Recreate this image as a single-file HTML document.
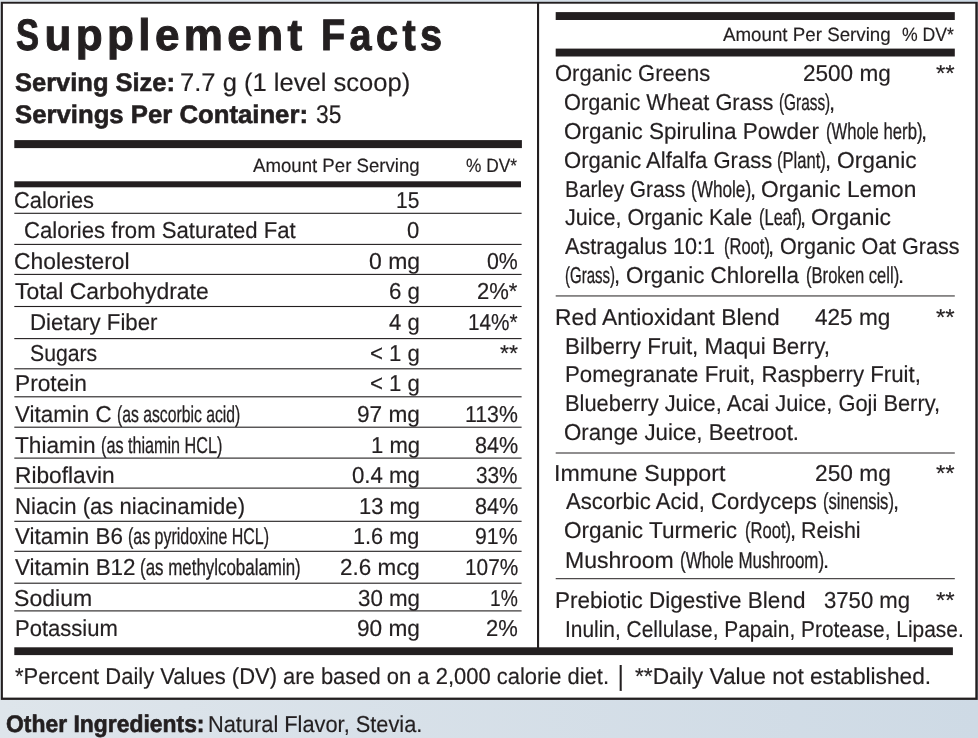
<!DOCTYPE html>
<html><head><meta charset="utf-8"><title>Supplement Facts</title><style>
html,body{margin:0;padding:0}
body{width:978px;height:738px;overflow:hidden;position:relative;background:linear-gradient(to right,#dee5eb,#cedae5);
 font-family:"Liberation Sans",sans-serif;color:#231f20}
svg{position:absolute;left:0;top:0}
.t{position:absolute;white-space:pre;line-height:1;transform-origin:0 0;display:block;text-rendering:geometricPrecision}
.b{font-weight:bold}
</style></head><body>
<svg width="978" height="738" viewBox="0 0 978 738"><rect x="0.80" y="1.80" width="976.95" height="698.10" fill="#231f20"/><rect x="2.90" y="3.70" width="972.40" height="693.90" fill="#ffffff"/><rect x="537.00" y="3.00" width="2.10" height="645.00" fill="#231f20"/><rect x="14.30" y="140.10" width="507.60" height="8.00" fill="#231f20"/><rect x="14.30" y="181.30" width="506.70" height="6.00" fill="#231f20"/><rect x="14.30" y="212.75" width="507.30" height="1.10" fill="#231f20"/><rect x="14.30" y="243.85" width="507.30" height="1.10" fill="#231f20"/><rect x="14.30" y="273.85" width="507.30" height="1.10" fill="#231f20"/><rect x="14.30" y="305.95" width="507.30" height="1.10" fill="#231f20"/><rect x="14.30" y="338.05" width="507.30" height="1.10" fill="#231f20"/><rect x="14.30" y="368.25" width="507.30" height="1.10" fill="#231f20"/><rect x="14.30" y="396.25" width="507.30" height="1.10" fill="#231f20"/><rect x="14.30" y="426.65" width="507.30" height="1.10" fill="#231f20"/><rect x="14.30" y="457.55" width="507.30" height="1.10" fill="#231f20"/><rect x="14.30" y="487.55" width="507.30" height="1.10" fill="#231f20"/><rect x="14.30" y="520.75" width="507.30" height="1.10" fill="#231f20"/><rect x="14.30" y="550.75" width="507.30" height="1.10" fill="#231f20"/><rect x="14.30" y="582.65" width="507.30" height="1.10" fill="#231f20"/><rect x="14.30" y="610.35" width="507.30" height="1.10" fill="#231f20"/><rect x="14.30" y="647.30" width="938.60" height="7.80" fill="#231f20"/><rect x="555.70" y="12.10" width="399.10" height="7.90" fill="#231f20"/><rect x="555.70" y="48.60" width="399.10" height="7.90" fill="#231f20"/><rect x="555.70" y="295.45" width="399.10" height="1.00" fill="#231f20"/><rect x="555.70" y="452.50" width="399.10" height="1.00" fill="#231f20"/><rect x="555.70" y="578.20" width="399.10" height="1.00" fill="#231f20"/></svg>
<span class="t b" style="left:15.71px;top:14.00px;font-size:44px;letter-spacing:4.400px;-webkit-text-stroke:1.0px #231f20"><span style="display:inline-block;transform:scaleX(0.7852);transform-origin:0 0;margin-right:-4.96px">S</span>upplement</span>
<span class="t b" style="left:321.20px;top:14.00px;font-size:44px;transform:scaleX(0.9000);letter-spacing:4.910px;-webkit-text-stroke:1.0px #231f20">Facts</span>
<span class="t b" style="left:15.30px;top:71.00px;font-size:25.5px;transform:scaleX(0.9991);-webkit-text-stroke:0.6px #231f20">Serving Size:</span>
<span class="t" style="left:180.20px;top:71.00px;font-size:25.5px;transform:scaleX(1.0029);-webkit-text-stroke:0.18px #231f20">7.7 g (1 level scoop)</span>
<span class="t b" style="left:15.30px;top:103.00px;font-size:25.5px;transform:scaleX(1.0086);-webkit-text-stroke:0.6px #231f20">Servings Per Container:</span>
<span class="t" style="left:316.00px;top:103.00px;font-size:25.5px;transform:scaleX(0.8942);-webkit-text-stroke:0.18px #231f20">35</span>
<span class="t" style="left:252.90px;top:157.00px;font-size:19.2px;transform:scaleX(0.9706);-webkit-text-stroke:0.18px #231f20">Amount Per Serving</span>
<span class="t" style="left:466.10px;top:157.00px;font-size:19.2px;transform:scaleX(0.9010);-webkit-text-stroke:0.18px #231f20">% DV*</span>
<span class="t" style="left:13.75px;top:189.00px;font-size:23.0px;transform:scaleX(0.9486);-webkit-text-stroke:0.18px #231f20">Calories</span>
<span class="t" style="left:396.29px;top:189.00px;font-size:23.0px;transform:scaleX(0.9121);-webkit-text-stroke:0.18px #231f20">15</span>
<span class="t" style="left:23.94px;top:219.00px;font-size:23.0px;transform:scaleX(0.9620);-webkit-text-stroke:0.18px #231f20">Calories from Saturated Fat</span>
<span class="t" style="left:407.40px;top:219.00px;font-size:23.0px;transform:scaleX(0.9583);-webkit-text-stroke:0.18px #231f20">0</span>
<span class="t" style="left:13.71px;top:250.00px;font-size:23.0px;transform:scaleX(0.9936);-webkit-text-stroke:0.18px #231f20">Cholesterol</span>
<span class="t" style="left:368.60px;top:250.00px;font-size:23.0px;transform:scaleX(0.9992);-webkit-text-stroke:0.18px #231f20">0 mg</span>
<span class="t" style="left:487.10px;top:250.00px;font-size:23.0px;transform:scaleX(0.9271);-webkit-text-stroke:0.18px #231f20">0%</span>
<span class="t" style="left:15.00px;top:280.00px;font-size:23.0px;transform:scaleX(0.9967);-webkit-text-stroke:0.18px #231f20">Total Carbohydrate</span>
<span class="t" style="left:388.63px;top:280.00px;font-size:23.0px;transform:scaleX(0.9708);-webkit-text-stroke:0.18px #231f20">6 g</span>
<span class="t" style="left:477.04px;top:280.00px;font-size:23.0px;transform:scaleX(0.9578);-webkit-text-stroke:0.18px #231f20">2%*</span>
<span class="t" style="left:29.73px;top:311.00px;font-size:23.0px;transform:scaleX(0.9688);-webkit-text-stroke:0.18px #231f20">Dietary Fiber</span>
<span class="t" style="left:389.00px;top:311.00px;font-size:23.0px;transform:scaleX(0.9589);-webkit-text-stroke:0.18px #231f20">4 g</span>
<span class="t" style="left:467.80px;top:311.00px;font-size:23.0px;transform:scaleX(0.9031);-webkit-text-stroke:0.18px #231f20">14%*</span>
<span class="t" style="left:29.78px;top:342.00px;font-size:23.0px;transform:scaleX(0.9219);-webkit-text-stroke:0.18px #231f20">Sugars</span>
<span class="t" style="left:369.74px;top:342.00px;font-size:23.0px;transform:scaleX(0.9639);-webkit-text-stroke:0.18px #231f20">&lt; 1 g</span>
<span class="t" style="left:499.50px;top:342.00px;font-size:23.0px;transform:scaleX(1.0027);-webkit-text-stroke:0.18px #231f20">**</span>
<span class="t" style="left:14.81px;top:372.00px;font-size:23.0px;transform:scaleX(0.9876);-webkit-text-stroke:0.18px #231f20">Protein</span>
<span class="t" style="left:369.74px;top:372.00px;font-size:23.0px;transform:scaleX(0.9639);-webkit-text-stroke:0.18px #231f20">&lt; 1 g</span>
<span class="t" style="left:14.50px;top:403.00px;font-size:23.0px;transform:scaleX(0.9730);-webkit-text-stroke:0.18px #231f20">Vitamin C</span>
<span class="t" style="left:117.22px;top:403.00px;font-size:23.0px;transform:scaleX(0.6843);-webkit-text-stroke:0.3px #231f20">(as ascorbic acid)</span>
<span class="t" style="left:356.72px;top:403.00px;font-size:23.0px;transform:scaleX(0.9850);-webkit-text-stroke:0.18px #231f20">97 mg</span>
<span class="t" style="left:465.07px;top:403.00px;font-size:23.0px;transform:scaleX(0.9251);-webkit-text-stroke:0.18px #231f20">113%</span>
<span class="t" style="left:14.70px;top:434.00px;font-size:23.0px;transform:scaleX(0.9850);-webkit-text-stroke:0.18px #231f20">Thiamin</span>
<span class="t" style="left:101.20px;top:434.00px;font-size:23.0px;transform:scaleX(0.7034);-webkit-text-stroke:0.3px #231f20">(as thiamin HCL)</span>
<span class="t" style="left:370.64px;top:434.00px;font-size:23.0px;transform:scaleX(0.9586);-webkit-text-stroke:0.18px #231f20">1 mg</span>
<span class="t" style="left:474.66px;top:434.00px;font-size:23.0px;transform:scaleX(0.9398);-webkit-text-stroke:0.18px #231f20">84%</span>
<span class="t" style="left:14.81px;top:464.00px;font-size:23.0px;transform:scaleX(0.9869);-webkit-text-stroke:0.18px #231f20">Riboflavin</span>
<span class="t" style="left:351.70px;top:464.00px;font-size:23.0px;transform:scaleX(0.9666);-webkit-text-stroke:0.18px #231f20">0.4 mg</span>
<span class="t" style="left:476.30px;top:464.00px;font-size:23.0px;transform:scaleX(0.9038);-webkit-text-stroke:0.18px #231f20">33%</span>
<span class="t" style="left:14.84px;top:495.00px;font-size:23.0px;transform:scaleX(0.9622);-webkit-text-stroke:0.18px #231f20">Niacin (as niacinamide)</span>
<span class="t" style="left:358.85px;top:495.00px;font-size:23.0px;transform:scaleX(0.9512);-webkit-text-stroke:0.18px #231f20">13 mg</span>
<span class="t" style="left:474.66px;top:495.00px;font-size:23.0px;transform:scaleX(0.9398);-webkit-text-stroke:0.18px #231f20">84%</span>
<span class="t" style="left:14.50px;top:525.00px;font-size:23.0px;transform:scaleX(0.9745);-webkit-text-stroke:0.18px #231f20">Vitamin B6</span>
<span class="t" style="left:128.21px;top:525.00px;font-size:23.0px;transform:scaleX(0.6940);-webkit-text-stroke:0.3px #231f20">(as pyridoxine HCL)</span>
<span class="t" style="left:353.36px;top:525.00px;font-size:23.0px;transform:scaleX(0.9428);-webkit-text-stroke:0.18px #231f20">1.6 mg</span>
<span class="t" style="left:475.38px;top:525.00px;font-size:23.0px;transform:scaleX(0.9241);-webkit-text-stroke:0.18px #231f20">91%</span>
<span class="t" style="left:14.50px;top:556.00px;font-size:23.0px;transform:scaleX(0.9756);-webkit-text-stroke:0.18px #231f20">Vitamin B12</span>
<span class="t" style="left:140.46px;top:556.00px;font-size:23.0px;transform:scaleX(0.7353);-webkit-text-stroke:0.3px #231f20">(as methylcobalamin)</span>
<span class="t" style="left:339.82px;top:556.00px;font-size:23.0px;transform:scaleX(0.9760);-webkit-text-stroke:0.18px #231f20">2.6 mcg</span>
<span class="t" style="left:464.59px;top:556.00px;font-size:23.0px;transform:scaleX(0.9063);-webkit-text-stroke:0.18px #231f20">107%</span>
<span class="t" style="left:13.90px;top:587.00px;font-size:23.0px;transform:scaleX(1.0023);-webkit-text-stroke:0.18px #231f20">Sodium</span>
<span class="t" style="left:357.70px;top:587.00px;font-size:23.0px;transform:scaleX(0.9694);-webkit-text-stroke:0.18px #231f20">30 mg</span>
<span class="t" style="left:490.06px;top:587.00px;font-size:23.0px;transform:scaleX(0.8367);-webkit-text-stroke:0.18px #231f20">1%</span>
<span class="t" style="left:14.84px;top:617.00px;font-size:23.0px;transform:scaleX(0.9580);-webkit-text-stroke:0.18px #231f20">Potassium</span>
<span class="t" style="left:356.72px;top:617.00px;font-size:23.0px;transform:scaleX(0.9850);-webkit-text-stroke:0.18px #231f20">90 mg</span>
<span class="t" style="left:486.14px;top:617.00px;font-size:23.0px;transform:scaleX(0.9562);-webkit-text-stroke:0.18px #231f20">2%</span>
<span class="t" style="left:14.90px;top:665.00px;font-size:23.0px;transform:scaleX(0.9547);-webkit-text-stroke:0.18px #231f20">*Percent Daily Values (DV) are based on a 2,000 calorie diet.</span>
<span class="t" style="left:617.70px;top:665.00px;font-size:23.0px;transform:scale(1.0000,1.2);transform-origin:0 52%;-webkit-text-stroke:0.18px #231f20">|</span>
<span class="t" style="left:635.20px;top:665.00px;font-size:23.0px;transform:scaleX(0.9871);-webkit-text-stroke:0.18px #231f20">**Daily Value not established.</span>
<span class="t b" style="left:6.00px;top:713.00px;font-size:24.0px;transform:scaleX(0.9542);-webkit-text-stroke:0.6px #231f20">Other Ingredients:</span>
<span class="t" style="left:207.75px;top:713.00px;font-size:23.0px;transform:scaleX(0.9474);-webkit-text-stroke:0.18px #231f20">Natural Flavor, Stevia.</span>
<span class="t" style="left:723.00px;top:26.00px;font-size:19.2px;transform:scaleX(0.9764);-webkit-text-stroke:0.18px #231f20">Amount Per Serving</span>
<span class="t" style="left:902.00px;top:26.00px;font-size:19.2px;transform:scaleX(0.9186);-webkit-text-stroke:0.18px #231f20">% DV*</span>
<span class="t" style="left:554.64px;top:62.00px;font-size:23.0px;transform:scaleX(0.9556);-webkit-text-stroke:0.18px #231f20">Organic Greens</span>
<span class="t" style="left:802.72px;top:62.00px;font-size:23.0px;transform:scaleX(0.9804);-webkit-text-stroke:0.18px #231f20">2500 mg</span>
<span class="t" style="left:936.10px;top:62.00px;font-size:23.0px;transform:scaleX(1.0473);-webkit-text-stroke:0.18px #231f20">**</span>
<span class="t" style="left:564.15px;top:91.00px;font-size:23.0px;transform:scaleX(0.9475);-webkit-text-stroke:0.18px #231f20">Organic Wheat Grass</span>
<span class="t" style="left:778.73px;top:91.00px;font-size:23.0px;transform:scaleX(0.6680);-webkit-text-stroke:0.3px #231f20">(Grass)</span>
<span class="t" style="left:828.59px;top:91.00px;font-size:23.0px;transform:scaleX(0.9550);-webkit-text-stroke:0.18px #231f20">,</span>
<span class="t" style="left:564.12px;top:120.00px;font-size:23.0px;transform:scaleX(0.9780);-webkit-text-stroke:0.18px #231f20">Organic Spirulina Powder</span>
<span class="t" style="left:825.57px;top:120.00px;font-size:23.0px;transform:scaleX(0.7260);-webkit-text-stroke:0.3px #231f20">(Whole herb)</span>
<span class="t" style="left:920.69px;top:120.00px;font-size:23.0px;transform:scaleX(0.9550);-webkit-text-stroke:0.18px #231f20">,</span>
<span class="t" style="left:564.14px;top:149.00px;font-size:23.0px;transform:scaleX(0.9583);-webkit-text-stroke:0.18px #231f20">Organic Alfalfa Grass</span>
<span class="t" style="left:777.38px;top:149.00px;font-size:23.0px;transform:scaleX(0.7218);-webkit-text-stroke:0.3px #231f20">(Plant)</span>
<span class="t" style="left:824.89px;top:149.00px;font-size:23.0px;transform:scaleX(0.9550);-webkit-text-stroke:0.18px #231f20">,</span>
<span class="t" style="left:836.81px;top:149.00px;font-size:23.0px;transform:scaleX(0.9895);-webkit-text-stroke:0.18px #231f20">Organic</span>
<span class="t" style="left:564.89px;top:178.00px;font-size:23.0px;transform:scaleX(0.9062);-webkit-text-stroke:0.18px #231f20">Barley Grass</span>
<span class="t" style="left:690.95px;top:178.00px;font-size:23.0px;transform:scaleX(0.7470);-webkit-text-stroke:0.3px #231f20">(Whole)</span>
<span class="t" style="left:749.69px;top:178.00px;font-size:23.0px;transform:scaleX(0.9550);-webkit-text-stroke:0.18px #231f20">,</span>
<span class="t" style="left:760.91px;top:178.00px;font-size:23.0px;transform:scaleX(0.9881);-webkit-text-stroke:0.18px #231f20">Organic Lemon</span>
<span class="t" style="left:565.00px;top:206.00px;font-size:23.0px;transform:scaleX(0.9384);-webkit-text-stroke:0.18px #231f20">Juice, Organic Kale</span>
<span class="t" style="left:758.58px;top:206.00px;font-size:23.0px;transform:scaleX(0.7172);-webkit-text-stroke:0.3px #231f20">(Leaf)</span>
<span class="t" style="left:800.29px;top:206.00px;font-size:23.0px;transform:scaleX(0.9550);-webkit-text-stroke:0.18px #231f20">,</span>
<span class="t" style="left:811.01px;top:206.00px;font-size:23.0px;transform:scaleX(0.9932);-webkit-text-stroke:0.18px #231f20">Organic</span>
<span class="t" style="left:565.00px;top:235.00px;font-size:23.0px;transform:scaleX(0.9388);-webkit-text-stroke:0.18px #231f20">Astragalus 10:1</span>
<span class="t" style="left:723.58px;top:235.00px;font-size:23.0px;transform:scaleX(0.7182);-webkit-text-stroke:0.3px #231f20">(Root)</span>
<span class="t" style="left:768.09px;top:235.00px;font-size:23.0px;transform:scaleX(0.9550);-webkit-text-stroke:0.18px #231f20">,</span>
<span class="t" style="left:779.66px;top:235.00px;font-size:23.0px;transform:scaleX(0.9363);-webkit-text-stroke:0.18px #231f20">Organic Oat Grass</span>
<span class="t" style="left:565.15px;top:264.00px;font-size:23.0px;transform:scaleX(0.6520);-webkit-text-stroke:0.3px #231f20">(Grass)</span>
<span class="t" style="left:613.79px;top:264.00px;font-size:23.0px;transform:scaleX(0.9550);-webkit-text-stroke:0.18px #231f20">,</span>
<span class="t" style="left:625.53px;top:264.00px;font-size:23.0px;transform:scaleX(0.9734);-webkit-text-stroke:0.18px #231f20">Organic Chlorella</span>
<span class="t" style="left:806.28px;top:264.00px;font-size:23.0px;transform:scaleX(0.7219);-webkit-text-stroke:0.3px #231f20">(Broken cell)</span>
<span class="t" style="left:898.09px;top:264.00px;font-size:23.0px;transform:scaleX(0.9550);-webkit-text-stroke:0.18px #231f20">.</span>
<span class="t" style="left:554.61px;top:306.00px;font-size:23.0px;transform:scaleX(0.9927);-webkit-text-stroke:0.18px #231f20">Red Antioxidant Blend</span>
<span class="t" style="left:815.20px;top:306.00px;font-size:23.0px;transform:scaleX(0.9812);-webkit-text-stroke:0.18px #231f20">425 mg</span>
<span class="t" style="left:936.10px;top:306.00px;font-size:23.0px;transform:scaleX(1.0473);-webkit-text-stroke:0.18px #231f20">**</span>
<span class="t" style="left:565.32px;top:335.00px;font-size:23.0px;transform:scaleX(0.9751);-webkit-text-stroke:0.18px #231f20">Bilberry Fruit, Maqui Berry,</span>
<span class="t" style="left:565.33px;top:363.00px;font-size:23.0px;transform:scaleX(0.9665);-webkit-text-stroke:0.18px #231f20">Pomegranate Fruit, Raspberry Fruit,</span>
<span class="t" style="left:565.35px;top:392.00px;font-size:23.0px;transform:scaleX(0.9506);-webkit-text-stroke:0.18px #231f20">Blueberry Juice, Acai Juice, Goji Berry,</span>
<span class="t" style="left:564.03px;top:421.00px;font-size:23.0px;transform:scaleX(0.9675);-webkit-text-stroke:0.18px #231f20">Orange Juice, Beetroot.</span>
<span class="t" style="left:553.58px;top:462.00px;font-size:23.0px;transform:scaleX(1.0081);-webkit-text-stroke:0.18px #231f20">Immune Support</span>
<span class="t" style="left:814.71px;top:462.00px;font-size:23.0px;transform:scaleX(0.9877);-webkit-text-stroke:0.18px #231f20">250 mg</span>
<span class="t" style="left:936.10px;top:462.00px;font-size:23.0px;transform:scaleX(1.0473);-webkit-text-stroke:0.18px #231f20">**</span>
<span class="t" style="left:565.80px;top:490.00px;font-size:23.0px;transform:scaleX(0.9621);-webkit-text-stroke:0.18px #231f20">Ascorbic Acid, Cordyceps</span>
<span class="t" style="left:823.08px;top:490.00px;font-size:23.0px;transform:scaleX(0.7204);-webkit-text-stroke:0.3px #231f20">(sinensis)</span>
<span class="t" style="left:892.59px;top:490.00px;font-size:23.0px;transform:scaleX(0.9550);-webkit-text-stroke:0.18px #231f20">,</span>
<span class="t" style="left:564.12px;top:519.00px;font-size:23.0px;transform:scaleX(0.9818);-webkit-text-stroke:0.18px #231f20">Organic Turmeric</span>
<span class="t" style="left:745.08px;top:519.00px;font-size:23.0px;transform:scaleX(0.7214);-webkit-text-stroke:0.3px #231f20">(Root)</span>
<span class="t" style="left:789.79px;top:519.00px;font-size:23.0px;transform:scaleX(0.9550);-webkit-text-stroke:0.18px #231f20">,</span>
<span class="t" style="left:801.07px;top:519.00px;font-size:23.0px;transform:scaleX(0.9320);-webkit-text-stroke:0.18px #231f20">Reishi</span>
<span class="t" style="left:565.30px;top:549.00px;font-size:23.0px;transform:scaleX(1.0011);-webkit-text-stroke:0.18px #231f20">Mushroom</span>
<span class="t" style="left:680.16px;top:549.00px;font-size:23.0px;transform:scaleX(0.7370);-webkit-text-stroke:0.3px #231f20">(Whole Mushroom)</span>
<span class="t" style="left:822.89px;top:549.00px;font-size:23.0px;transform:scaleX(0.9550);-webkit-text-stroke:0.18px #231f20">.</span>
<span class="t" style="left:554.62px;top:589.00px;font-size:23.0px;transform:scaleX(0.9795);-webkit-text-stroke:0.18px #231f20">Prebiotic Digestive Blend</span>
<span class="t" style="left:823.50px;top:589.00px;font-size:23.0px;transform:scaleX(0.9615);-webkit-text-stroke:0.18px #231f20">3750 mg</span>
<span class="t" style="left:936.10px;top:589.00px;font-size:23.0px;transform:scaleX(1.0473);-webkit-text-stroke:0.18px #231f20">**</span>
<span class="t" style="left:565.08px;top:618.00px;font-size:23.0px;transform:scaleX(0.9093);-webkit-text-stroke:0.18px #231f20">Inulin, Cellulase, Papain, Protease, Lipase.</span>
</body></html>
